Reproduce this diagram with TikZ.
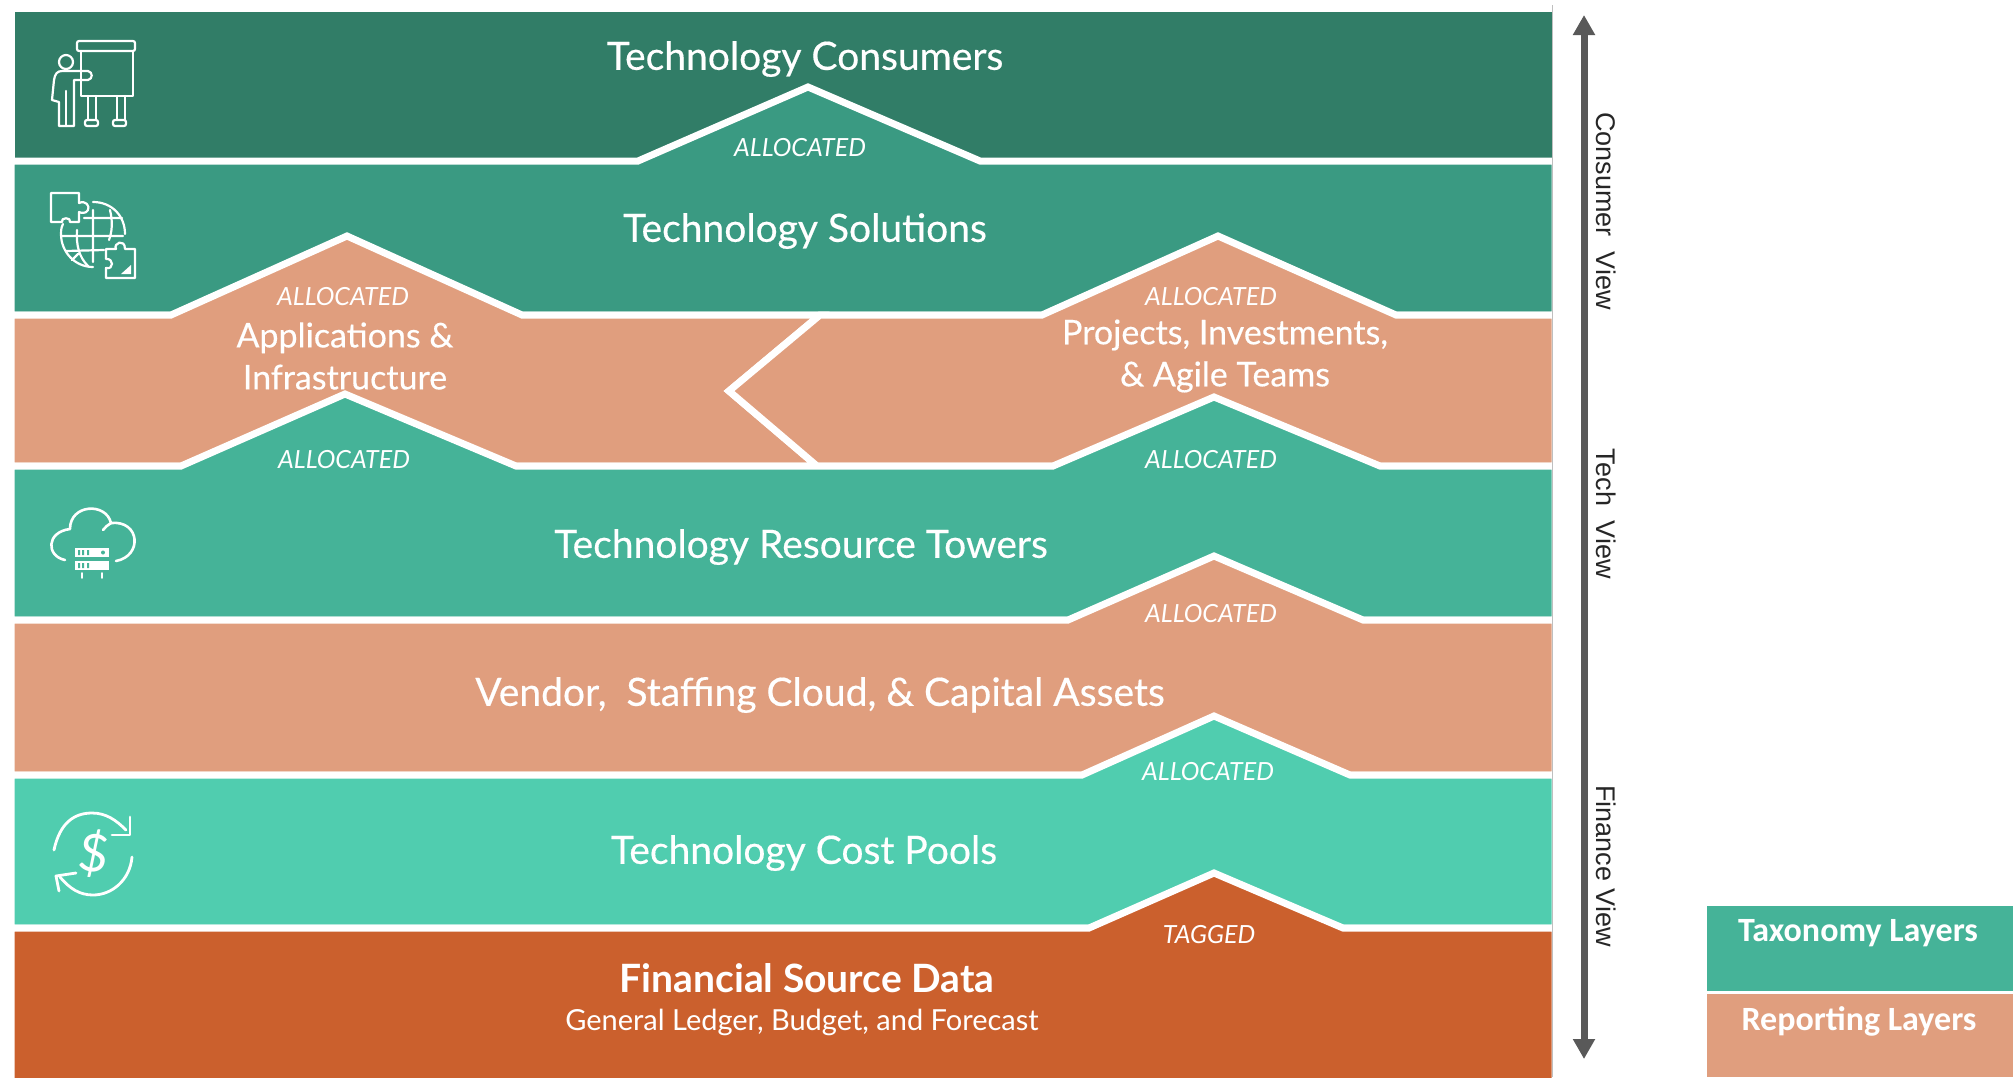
\documentclass[tikz,border=0pt]{standalone}
\usepackage{fontspec}
\setmainfont{Lato}
\newfontfamily\titlefont[FakeBold=0.4]{Lato}
\newfontfamily\viewfont{Liberation Sans}
\newfontfamily\legendfont{Carlito}
\usepackage{xcolor}
\usetikzlibrary{arrows.meta}
\definecolor{consumerGreen}{HTML}{317D67}
\definecolor{solutionGreen}{HTML}{3A9A82}
\definecolor{towerGreen}{HTML}{45B398}
\definecolor{poolGreen}{HTML}{50CDAF}
\definecolor{reportOrange}{HTML}{E09E7E}
\definecolor{sourceOrange}{HTML}{CB602D}
\definecolor{arrowGray}{HTML}{595959}

\begin{document}
\begin{tikzpicture}
  [
    x=0.5pt, y=-0.5pt,
    Band/.style={draw=white, line width=3.5pt, line join=miter},
    Icon/.style={draw=white, line width=1.1pt, line cap=round, line join=round},
    Title/.style={text=white, font=\titlefont\fontsize{19.5}{22}\selectfont, align=center},
    Small/.style={text=white, font=\itshape\fontsize{12.5}{15}\selectfont},
    View/.style={text=black!85, rotate=-90, font=\viewfont\fontsize{13.5}{16}\selectfont},
    Legend/.style={text=white, font=\legendfont\bfseries\fontsize{17}{20}\selectfont},
    Key/.style={inner sep=0pt, minimum width=153pt}
  ]
  \useasboundingbox (0, 0) rectangle (2013, 1077);
  \begin{scope}
  \clip (0, 0) rectangle (2013, 1077);

  % Bands
  \path [Band, fill=consumerGreen] (11, 8) -- (1555, 8) -- (1555, 161) -- (11, 161) -- cycle;
  \path [Band, fill=solutionGreen] (11, 161) -- (638, 161) -- (808, 87) -- (980, 161) -- (1555, 161) -- (1555, 315) -- (11, 315) -- cycle;
  \path [Band, fill=reportOrange] (11, 315) -- (171, 315) -- (347, 236) -- (522, 315) -- (820, 315) -- (729, 391) -- (817, 466) -- (11, 466) -- cycle;
  \path [Band, fill=reportOrange] (820, 315) -- (1042, 315) -- (1218, 236) -- (1396, 315) -- (1555, 315) -- (1555, 466) -- (817, 466) -- (729, 391) -- cycle;
  \path [Band, fill=towerGreen] (11, 466) -- (181, 466) -- (345, 394) -- (516, 466) -- (1053, 466) -- (1214, 397) -- (1380, 466) -- (1555, 466) -- (1555, 620) -- (11, 620) -- cycle;
  \path [Band, fill=reportOrange] (11, 620) -- (1068, 620) -- (1214, 556) -- (1363, 620) -- (1555, 620) -- (1555, 775) -- (11, 775) -- cycle;
  \path [Band, fill=poolGreen] (11, 775) -- (1082, 775) -- (1214, 716) -- (1350, 775) -- (1555, 775) -- (1555, 928) -- (11, 928) -- cycle;
  \path [Band, fill=sourceOrange] (11, 928) -- (1089, 928) -- (1214, 873) -- (1343, 928) -- (1555, 928) -- (1555, 1090) -- (11, 1090) -- cycle;
  \end{scope}
  \path [draw=black!25, line width=0.5pt] (1552, 5) -- (1552, 1077);

  % Nodes
  \node[Title] (consumers) at(805, 59) {Technology Consumers};
  \node[Title] (solutions) at(805, 231) {Technology Solutions};
  \node[Title, font=\titlefont\fontsize{17}{21}\selectfont] (apps) at(345, 356) {Applications \&\\Infrastructure};
  \node[Title, font=\titlefont\fontsize{17}{21}\selectfont] (projects) at(1225, 356) {Projects, Investments,\\\& Agile Teams};
  \node[Title] (towers) at(801, 547) {Technology Resource Towers};
  \node[Title] (vendor) at(820, 695) {Vendor,\ \ Staffing Cloud, \& Capital Assets};
  \node[Title] (pools) at(804, 853) {Technology Cost Pools};
  \node[Title, font=\bfseries\fontsize{19.5}{22}\selectfont] (source) at(807, 978) {Financial Source Data};
  \node[text=white, font=\fontsize{14.5}{17}\selectfont] (ledger) at(802, 1022) {General Ledger, Budget, and Forecast};

  \node[Small] (a1) at(800, 148) {ALLOCATED};
  \node[Small] (a2) at(343, 297) {ALLOCATED};
  \node[Small] (a3) at(1211, 297) {ALLOCATED};
  \node[Small] (a4) at(344, 460) {ALLOCATED};
  \node[Small] (a5) at(1211, 460) {ALLOCATED};
  \node[Small] (a6) at(1211, 614) {ALLOCATED};
  \node[Small] (a7) at(1208, 772) {ALLOCATED};
  \node[Small] (tagged) at(1209, 935) {TAGGED};

  \node[View] (v1) at(1606, 211) {Consumer\ \ View};
  \node[View] (v2) at(1606, 514) {Tech\ \ View};
  \node[View] (v3) at(1606, 866) {Finance View};

  \node[Key, fill=towerGreen, minimum height=42.5pt] (k1) at(1860, 948.5) {};
  \node[Key, fill=reportOrange, minimum height=41.5pt] (k2) at(1860, 1035.5) {};
  \node[Legend] (l1) at(1858, 933) {Taxonomy Layers};
  \node[Legend] (l2) at(1859, 1021) {Reporting Layers};

  % Lines
  \coordinate (up) at(1584, 15);
  \coordinate (down) at(1584, 1059);
  \path [{Triangle[length=10pt, width=10.5pt]}-{Triangle[length=10pt, width=10.5pt]}, draw=arrowGray, line width=3.5pt] (up) -- (down);

  % Icon: presenter
  \path [Icon, rounded corners=1pt] (77, 41) rectangle (135, 51);
  \path [Icon] (81, 51) -- (81, 96) -- (133, 96) -- (133, 51);
  \path [Icon] (88, 96) -- (88, 120) (96, 96) -- (96, 120) (117, 96) -- (117, 120) (125, 96) -- (125, 120);
  \path [Icon, rounded corners=1pt] (85, 120) rectangle (98, 126);
  \path [Icon, rounded corners=1pt] (113, 120) rectangle (126, 126);
  \path [Icon] (66, 62) circle (7);
  \path [Icon] (59, 126) -- (59, 102) -- (52, 100) -- (54, 80) .. controls (55, 74) and (57, 71) .. (62, 71) -- (88, 71) .. controls (93, 72) and (93, 79) .. (88, 80) -- (74, 80) -- (74, 126) -- cycle;
  \path [Icon] (66, 91) -- (66, 126);

  % Icon: globe and puzzle
  \path [Icon] (93, 202) .. controls (112, 202) and (125, 216) .. (125, 234);
  \path [Icon] (93, 267) .. controls (75, 267) and (61, 252) .. (61, 234) .. controls (61, 228) and (62, 226) .. (63, 224);
  \path [Icon] (62, 236) -- (123, 236) (66, 251) -- (104, 250) (84, 218) -- (122, 218);
  \path [Icon] (93, 210) -- (93, 262) (110, 210) .. controls (113, 222) and (112, 232) .. (109, 240) (77, 230) .. controls (76, 245) and (79, 257) .. (88, 266) (78, 254) -- (72, 260);
  \path [Icon] (51, 193) -- (79, 193) -- (79, 203) .. controls (86, 200) and (90, 206) .. (88, 210) .. controls (86, 214) and (81, 213) .. (79, 212) -- (79, 222) -- (70, 222) .. controls (72, 217) and (60, 217) .. (62, 222) -- (51, 222) -- cycle;
  \path [Icon] (106, 249) -- (116, 249) .. controls (113, 243) and (125, 238) .. (125, 249) -- (135, 249) -- (135, 278) -- (106, 278) -- (106, 268) .. controls (114, 270) and (114, 258) .. (106, 259) -- cycle;
  \path [fill=white] (131, 265) -- (131, 274) -- (121, 274) -- cycle;

  % Icon: cloud and server
  \path [Icon, line width=1.3pt] (65, 560) .. controls (46, 556) and (46, 532) .. (70, 529) .. controls (70, 504) and (106, 502) .. (111, 523) .. controls (140, 520) and (143, 556) .. (116, 561);
  \path [Icon, line width=1.3pt] (103, 530) .. controls (105, 527) and (108, 525) .. (111, 523);
  \path [fill=white] (75, 548) rectangle (109, 557);
  \path [fill=white] (75, 561) rectangle (109, 570);
  \path [Icon, line width=0.8pt] (82, 573) -- (82, 578) (102, 573) -- (102, 578);
  \path [fill=towerGreen] (78, 550) rectangle (80, 555) (82, 550) rectangle (84, 555) (87, 550) rectangle (89, 555) (78, 563) rectangle (80, 568) (82, 563) rectangle (84, 568) (87, 563) rectangle (89, 568);
  \path [fill=towerGreen] (103, 552.5) circle (2);

  % Icon: dollar cycle
  \path [Icon, line width=1.4pt] (54, 850) .. controls (60, 822) and (75, 813) .. (92, 813) .. controls (106, 813) and (116, 820) .. (126, 830);
  \path [Icon, line width=1.4pt] (112, 835) -- (130, 835) -- (130, 817);
  \path [Icon, line width=1.4pt] (132, 857) .. controls (130, 880) and (112, 895) .. (93, 895) .. controls (80, 895) and (70, 889) .. (60, 877);
  \path [Icon, line width=1.4pt] (76, 873) -- (56, 876) -- (59, 891);
  \node[text=white, rotate=-8, font=\fontsize{26}{28}\selectfont, inner sep=0pt] (dollar) at(94, 854) {\$};

\end{tikzpicture}
\end{document}
